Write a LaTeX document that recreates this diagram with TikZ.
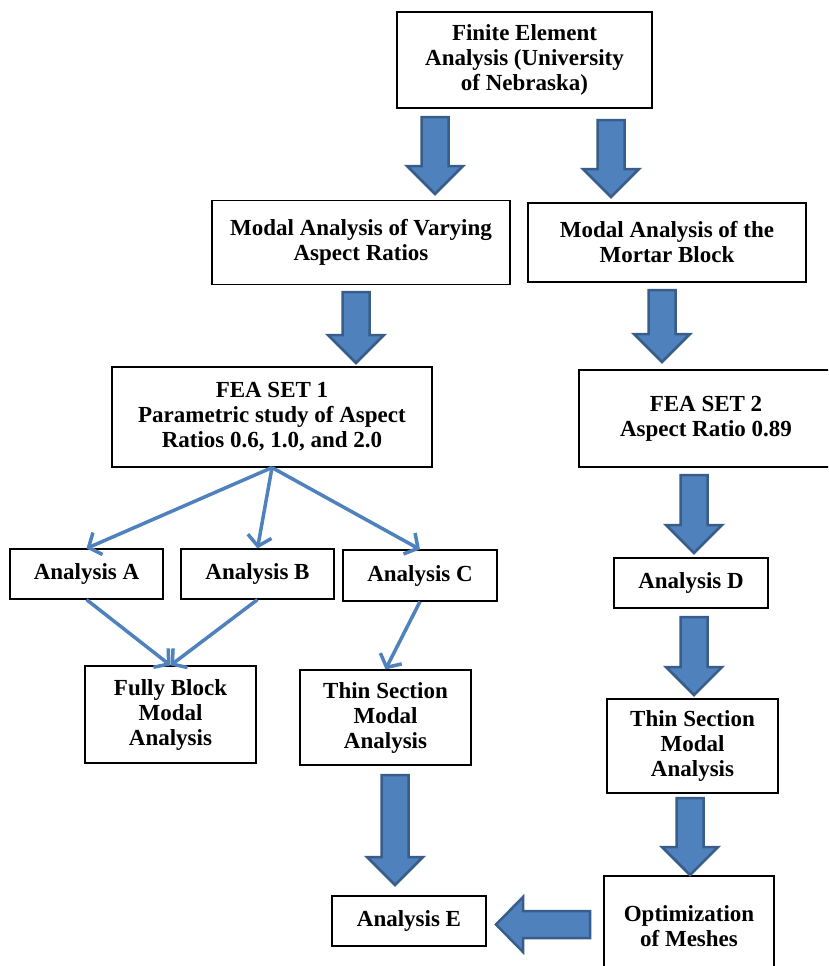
\documentclass[tikz,border=0pt]{standalone}
\usepackage{fontspec}
\setmainfont{Liberation Serif}
\usetikzlibrary{arrows.meta}

\definecolor{azul}{HTML}{4F81BD}
\definecolor{azulesc}{HTML}{385D8A}

\begin{document}
\begin{tikzpicture}[x=1pt,y=-1pt,
    caixa/.style={draw=black,line width=1.2pt,fill=white,inner sep=0pt,align=center,
      font=\fontsize{23}{25}\selectfont\bfseries},
    fino/.style={color=azul,line width=3.5pt,-{Straight Barb[length=10pt,width=24pt,line width=3.5pt]}},
    bloco/.style={fill=azul,draw=azulesc,line width=2.5pt,line join=miter}]
    \clip (0,0) rectangle (828,966);

    % caixas
    \node[caixa,minimum width=255pt,minimum height=96pt] (fe) at (524.5,60) {Finite Element\\Analysis (University\\of Nebraska)};
    \node[caixa,minimum width=298pt,minimum height=84pt] (mv) at (361,242.5) {Modal Analysis of Varying\\Aspect Ratios};
    \node[caixa,minimum width=278pt,minimum height=79pt] (mm) at (667,242.5) {Modal Analysis of the\\Mortar Block};
    \node[caixa,minimum width=320pt,minimum height=100pt] (fea1) at (272,417) {FEA SET 1\\Parametric study of Aspect\\Ratios 0.6, 1.0, and 2.0};
    \node[caixa,minimum width=254pt,minimum height=97pt] (fea2) at (706,418.5) {FEA SET 2\\Aspect Ratio 0.89};
    \node[caixa,minimum width=153pt,minimum height=50pt] (anaA) at (86.5,574) {Analysis A};
    \node[caixa,minimum width=153pt,minimum height=50pt] (anaB) at (257.5,574) {Analysis B};
    \node[caixa,minimum width=154pt,minimum height=51pt] (anaC) at (420,575.5) {Analysis C};
    \node[caixa,minimum width=171pt,minimum height=97pt] (fully) at (170.5,714.5) {Fully Block\\Modal\\Analysis};
    \node[caixa,minimum width=171pt,minimum height=95pt] (thinL) at (385.5,717.5) {Thin Section\\Modal\\Analysis};
    \node[caixa,minimum width=154pt,minimum height=50pt] (anaD) at (691,583) {Analysis D};
    \node[caixa,minimum width=171pt,minimum height=94pt] (thinR) at (692.5,746) {Thin Section\\Modal\\Analysis};
    \node[caixa,minimum width=170pt,minimum height=100pt] (opt) at (689,926) {Optimization\\of Meshes};
    \node[caixa,minimum width=154pt,minimum height=50pt] (anaE) at (409,921) {Analysis E};

    % setas largas (x centro / topo / ponta)
    \foreach \c/\t/\p in {435/117/194, 611/120/197, 356/292/363, 662/290/362,
                          694/475/553, 694/617/695, 690/798/875, 395/775/885}
      \draw[bloco] ({\c-13.5},\t) -- ({\c+13.5},\t) -- ({\c+13.5},{\p-28}) -- ({\c+28},{\p-28})
        -- (\c,\p) -- ({\c-28},{\p-28}) -- ({\c-13.5},{\p-28}) -- cycle;
    % seta para a esquerda
    \draw[bloco] (590,911) -- (523,911) -- (523,897) -- (496,924.5) -- (523,952) -- (523,938) -- (590,938) -- cycle;

    % setas finas
    \draw[fino] (fea1.south) -- (anaA.north);
    \draw[fino] (fea1.south) -- (anaB.north);
    \draw[fino] (fea1.south) -- (anaC.north);
    \draw[fino] (anaA.south) -- (fully.north);
    \draw[fino] (anaB.south) -- (fully.north);
    \draw[fino] (anaC.south) -- (thinL.north);

\end{tikzpicture}
\end{document}
